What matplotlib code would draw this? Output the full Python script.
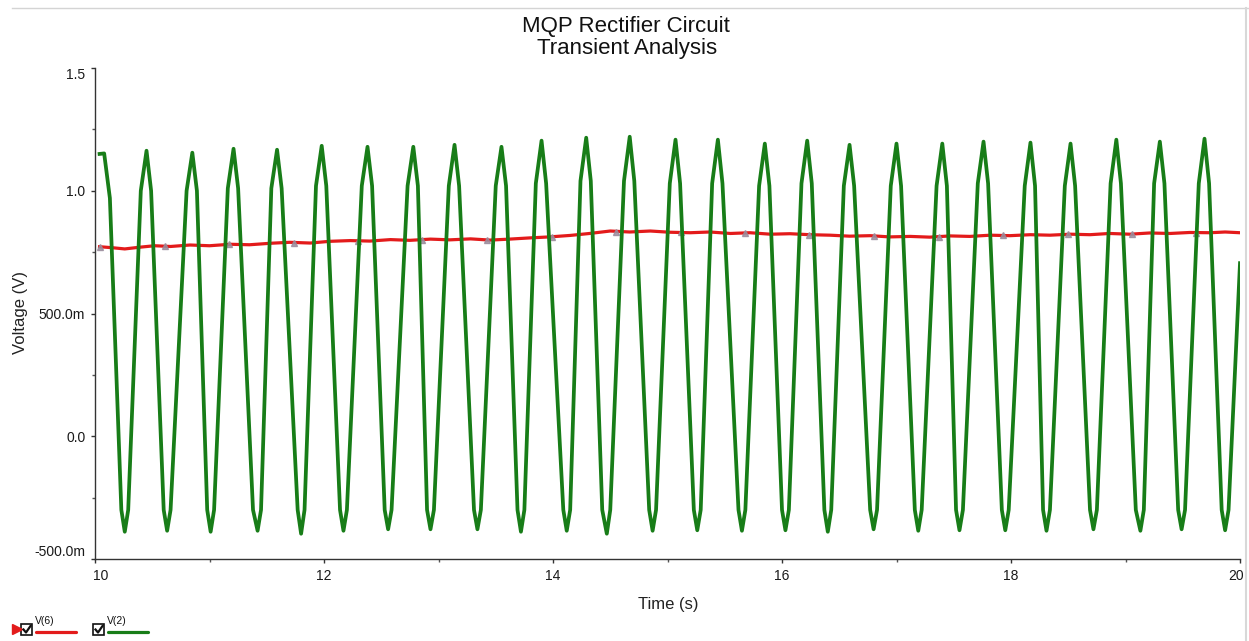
import matplotlib
matplotlib.use('Agg')
import matplotlib.pyplot as plt
from matplotlib.patches import Rectangle
from matplotlib.transforms import ScaledTranslation

plt.rcParams['font.family'] = ['Liberation Sans', 'DejaVu Sans']

# ---------------- data ----------------
title_lines = ['MQP Rectifier Circuit', 'Transient Analysis']
x_label = 'Time (s)'
y_label = 'Voltage (V)'
series_names = ['V(6)', 'V(2)']

# V(2): green waveform vertices
start_t, start_v = 10.04, 1.150
peak_t = [10.08, 10.45, 10.85, 11.21, 11.59, 11.98, 12.38, 12.78, 13.14, 13.55,
          13.90, 14.29, 14.67, 15.07, 15.44, 15.85, 16.22, 16.59, 17.00, 17.40,
          17.76, 18.17, 18.52, 18.92, 19.30, 19.69]
peak_v = [1.152, 1.163, 1.155, 1.171, 1.167, 1.183, 1.179, 1.179, 1.187, 1.179,
          1.204, 1.216, 1.220, 1.208, 1.208, 1.192, 1.204, 1.187, 1.192, 1.192,
          1.200, 1.196, 1.192, 1.208, 1.200, 1.212]
# shoulder where the rising edge bends into each peak (peaks 2..26)
rise_hi_t = [10.40, 10.80, 11.16, 11.54, 11.93, 12.33, 12.73, 13.09, 13.50, 13.85,
             14.24, 14.62, 15.02, 15.39, 15.80, 16.17, 16.54, 16.95, 17.35, 17.71,
             18.12, 18.47, 18.87, 19.25, 19.64]
rise_hi_v = [1.00, 1.00, 1.01, 1.01, 1.02, 1.02, 1.02, 1.02, 1.02, 1.03,
             1.04, 1.04, 1.03, 1.03, 1.02, 1.03, 1.02, 1.02, 1.02, 1.03,
             1.02, 1.02, 1.03, 1.03, 1.03]
# shoulder where the falling edge leaves each peak
fall_hi_t = [10.13, 10.49, 10.89, 11.25, 11.63, 12.02, 12.42, 12.82, 13.18, 13.59,
             13.94, 14.33, 14.71, 15.11, 15.48, 15.89, 16.26, 16.63, 17.04, 17.44,
             17.80, 18.21, 18.56, 18.96, 19.34, 19.73]
fall_hi_v = [0.97, 1.00, 1.00, 1.01, 1.01, 1.02, 1.02, 1.02, 1.02, 1.02,
             1.03, 1.04, 1.04, 1.03, 1.03, 1.02, 1.03, 1.02, 1.02, 1.02,
             1.03, 1.02, 1.02, 1.03, 1.03, 1.03]
# bend just before / after each trough
fall_lo_t = [10.23, 10.60, 10.98, 11.38, 11.77, 12.14, 12.53, 12.90, 13.31, 13.69,
             14.09, 14.43, 14.84, 15.23, 15.62, 16.00, 16.37, 16.77, 17.16, 17.52,
             17.92, 18.28, 18.69, 19.09, 19.46, 19.84]
rise_lo_t = [10.29, 10.66, 11.04, 11.45, 11.83, 12.20, 12.59, 12.96, 13.37, 13.75,
             14.15, 14.50, 14.90, 15.29, 15.68, 16.06, 16.43, 16.83, 17.22, 17.58,
             17.98, 18.34, 18.75, 19.16, 19.52, 19.90]
lo_v = -0.30
trough_t = [10.26, 10.63, 11.01, 11.42, 11.80, 12.17, 12.56, 12.93, 13.34, 13.72,
            14.12, 14.47, 14.87, 15.26, 15.65, 16.03, 16.40, 16.80, 17.19, 17.55,
            17.95, 18.31, 18.72, 19.13, 19.49, 19.87]
trough_v = [-0.389, -0.385, -0.389, -0.385, -0.397, -0.385, -0.379, -0.379, -0.379, -0.389,
            -0.385, -0.397, -0.385, -0.383, -0.385, -0.383, -0.389, -0.379, -0.385, -0.383,
            -0.383, -0.385, -0.379, -0.385, -0.379, -0.383]
end_t, end_v = 20.0, 0.705

# V(6): red trace
red_t = [10.04, 10.15, 10.26, 10.39, 10.52, 10.66, 10.83, 11.00, 11.18, 11.35,
         11.53, 11.70, 11.88, 12.05, 12.23, 12.40, 12.58, 12.75, 12.93, 13.10,
         13.28, 13.45, 13.62, 13.80, 13.97, 14.15, 14.32, 14.50, 14.67, 14.85,
         15.02, 15.20, 15.37, 15.55, 15.72, 15.90, 16.07, 16.24, 16.42, 16.59,
         16.77, 16.94, 17.12, 17.29, 17.47, 17.64, 17.82, 17.99, 18.17, 18.34,
         18.52, 18.69, 18.86, 19.04, 19.21, 19.39, 19.56, 19.74, 19.87, 20.00]
red_v = [0.772, 0.768, 0.763, 0.770, 0.776, 0.773, 0.779, 0.776, 0.782, 0.780,
         0.786, 0.790, 0.787, 0.794, 0.797, 0.795, 0.801, 0.798, 0.803, 0.800,
         0.804, 0.799, 0.803, 0.808, 0.812, 0.818, 0.826, 0.836, 0.832, 0.836,
         0.831, 0.829, 0.832, 0.826, 0.829, 0.823, 0.825, 0.821, 0.819, 0.815,
         0.817, 0.812, 0.814, 0.811, 0.816, 0.814, 0.819, 0.817, 0.821, 0.819,
         0.823, 0.821, 0.826, 0.823, 0.828, 0.826, 0.830, 0.829, 0.832, 0.829]
# grey triangle markers sitting on the V(6) trace
marker_t = [10.04, 10.61, 11.17, 11.74, 12.30, 12.86, 13.42, 13.99, 14.55,
            15.12, 15.68, 16.24, 16.80, 17.37, 17.93, 18.50, 19.06, 19.62]
marker_v = [0.772, 0.774, 0.782, 0.789, 0.796, 0.800, 0.801, 0.812, 0.834,
            0.831, 0.827, 0.821, 0.816, 0.812, 0.818, 0.822, 0.824, 0.829]

x_ticks = [10, 12, 14, 16, 18, 20]
x_tick_labels = ['10', '12', '14', '16', '18', '20']
x_minor = [11, 13, 15, 17, 19]
y_ticks = [-0.5, 0.0, 0.5, 1.0, 1.5]
y_tick_labels = ['-500.0m', '0.0', '500.0m', '1.0', '1.5']
y_minor = [-0.25, 0.25, 0.75, 1.25]

# ---------------- assemble the green polyline from the read vertices ----------------
green_t = [start_t]
green_v = [start_v]
for i in range(len(peak_t)):
    if i > 0:
        green_t.append(rise_hi_t[i - 1])
        green_v.append(rise_hi_v[i - 1])
    green_t += [peak_t[i], fall_hi_t[i], fall_lo_t[i], trough_t[i], rise_lo_t[i]]
    green_v += [peak_v[i], fall_hi_v[i], lo_v, trough_v[i], lo_v]
green_t.append(end_t)
green_v.append(end_v)

RED = '#e31b1b'
GREEN = '#187d18'
W, H = 1249, 641

fig = plt.figure(figsize=(W / 100, H / 100), dpi=100)
fig.patch.set_facecolor('white')

ax = fig.add_axes([95 / W, 1 - 559 / H, 1145 / W, 491 / H])
ax.plot(red_t, red_v, color=RED, lw=2.3, zorder=2, solid_joinstyle='round')
ax.plot(marker_t, marker_v, ls='none', marker='^', ms=5, color='#9a8c9c',
        alpha=0.85, zorder=3)
ax.plot(green_t, green_v, color=GREEN, lw=2.7, zorder=4, solid_joinstyle='round')

ax.set_xlim(10, 20)
ax.set_ylim(-0.5, 1.5)
for s in ['top', 'right']:
    ax.spines[s].set_visible(False)
for s in ['left', 'bottom']:
    ax.spines[s].set_color('#333333')
    ax.spines[s].set_linewidth(1.0)

ax.set_xticks(x_ticks)
ax.set_xticklabels(x_tick_labels)
ax.set_xticks(x_minor, minor=True)
ax.set_yticks(y_ticks)
ax.set_yticklabels(y_tick_labels)
ax.set_yticks(y_minor, minor=True)
ax.tick_params(axis='both', which='major', direction='out', length=3,
               width=1, color='#333333', labelsize=10, labelcolor='#1a1a1a')
ax.tick_params(axis='both', which='minor', direction='out', length=2,
               width=1, color='#555555')
ax.tick_params(axis='x', which='major', pad=4)
ax.tick_params(axis='y', which='major', pad=4)
yt = ax.yaxis.get_major_ticks()
yt[0].label1.set_va('bottom')
yt[-1].label1.set_va('top')
# end x labels nudged inward, as in the reference
xt = ax.xaxis.get_major_ticks()
lab0 = xt[0].label1
lab0.set_transform(lab0.get_transform() + ScaledTranslation(4 / 72, 0, fig.dpi_scale_trans))
labn = xt[-1].label1
labn.set_transform(labn.get_transform() + ScaledTranslation(-3 / 72, 0, fig.dpi_scale_trans))

# titles and axis labels
fig.text(626 / W, 1 - 32 / H, title_lines[0], ha='center', va='baseline',
         fontsize=16, color='#111111')
fig.text(627 / W, 1 - 54 / H, title_lines[1], ha='center', va='baseline',
         fontsize=16, color='#111111')
fig.text(668 / W, 1 - 604 / H, x_label, ha='center', va='center',
         fontsize=12, color='#222222')
fig.text(21 / W, 1 - 313 / H, y_label, ha='center', va='center',
         rotation=90, fontsize=12, color='#222222')

# overlay in pixel coordinates for frame lines and the legend strip
ov = fig.add_axes([0, 0, 1, 1], zorder=10)
ov.set_xlim(0, W)
ov.set_ylim(H, 0)
ov.axis('off')
ov.patch.set_alpha(0)
ov.plot([12, W], [8, 8], color='#d4d4d4', lw=1)
ov.plot([1246, 1246], [8, H], color='#d8d8d8', lw=1.5)

# legend strip
ov.plot([17], [629], marker='>', ms=7, color=RED, ls='none')
for bx, name, col in [(21, series_names[0], RED), (93, series_names[1], GREEN)]:
    ov.add_patch(Rectangle((bx, 624), 11, 11, fill=False, ec='#111111', lw=1.2))
    ov.plot([bx + 2.5, bx + 5, bx + 9.5], [629.5, 632.5, 626], color='#111111', lw=1.6)
    ov.text(bx + 14, 616, name, ha='left', va='top', fontsize=7.5, color='#111111')
    ov.plot([bx + 15, bx + 55], [632, 632], color=col, lw=2.3, solid_capstyle='round')

fig.savefig('out.png', dpi=100)
